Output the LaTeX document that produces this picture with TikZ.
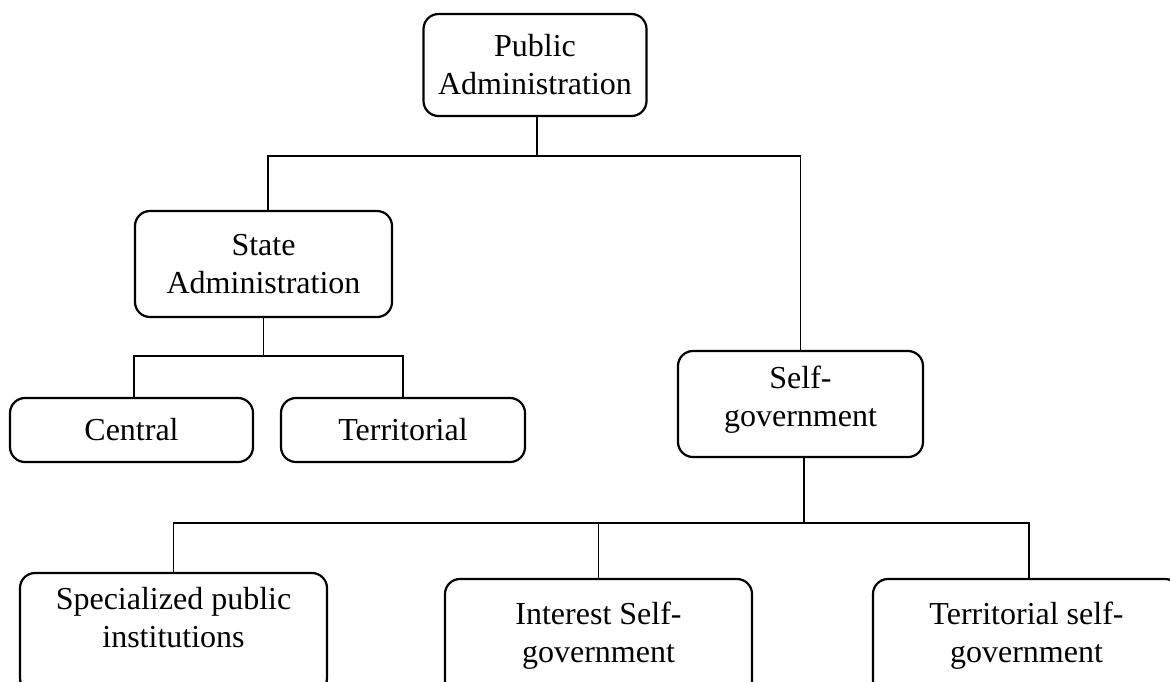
\documentclass[tikz,border=0pt]{standalone}
\usepackage{fontspec}
\setmainfont{Liberation Serif}
\begin{document}
\begin{tikzpicture}[x=0.5pt,y=-0.5pt,
  box/.style={draw, line width=1.1pt, rounded corners=7.5pt, inner sep=0pt, align=center,
              font=\fontsize{16}{19}\selectfont},
  txt/.style={inner sep=0pt, align=center, font=\fontsize{16}{19}\selectfont},
  link/.style={line width=0.6pt}]
\useasboundingbox (0,0) rectangle (1170,681);
\clip (0,0) rectangle (1170,681);

\node[box, minimum width=111.5pt, minimum height=51pt] (pa) at (535,65) {Public\\Administration};
\node[box, minimum width=128.5pt, minimum height=53pt] (sa) at (263.5,264) {State\\Administration};
\node[box, minimum width=121.5pt, minimum height=32pt] (c) at (131.5,430) {Central};
\node[box, minimum width=122pt, minimum height=32pt] (t) at (403,430) {Territorial};
\node[box, minimum width=122.5pt, minimum height=53pt] (sg) at (800.5,404) {};
\node[txt] (sgt) at (800.5,400) {Self-\\government};

\node[box, minimum width=153.5pt, minimum height=60pt] (sp) at (173.5,633) {};
\node[box, minimum width=153.5pt, minimum height=60pt] (is) at (598.5,639) {};
\node[box, minimum width=153.5pt, minimum height=60pt] (ts) at (1026.5,639) {};
\node[txt] (spt) at (173.5,618) {Specialized public\\institutions};
\node[txt] (ist) at (598.5,635.5) {Interest Self-\\government};
\node[txt] (tst) at (1026.5,635.5) {Territorial self-\\government};

\coordinate (bar1) at (0,156);
\coordinate (bar2) at (0,356);
\coordinate (bar3) at (0,523);

\draw[link] ([xshift=1pt]pa.south) -- ([xshift=1pt]pa.south |- bar1) -| ([xshift=2.25pt]sa.north);
\draw[link] ([xshift=1pt]pa.south |- bar1) -| (sg.north);
\draw[link] (sa.south) -- (sa.south |- bar2) -| ([xshift=1.25pt]c.north);
\draw[link] (sa.south |- bar2) -| (t.north);
\draw[link] ([xshift=1.75pt]sg.south) -- ([xshift=1.75pt]sg.south |- bar3) -| (sp.north);
\draw[link] ([xshift=1.75pt]sg.south |- bar3) -| (is.north);
\draw[link] ([xshift=1.75pt]sg.south |- bar3) -| ([xshift=1.25pt]ts.north);
\end{tikzpicture}
\end{document}
